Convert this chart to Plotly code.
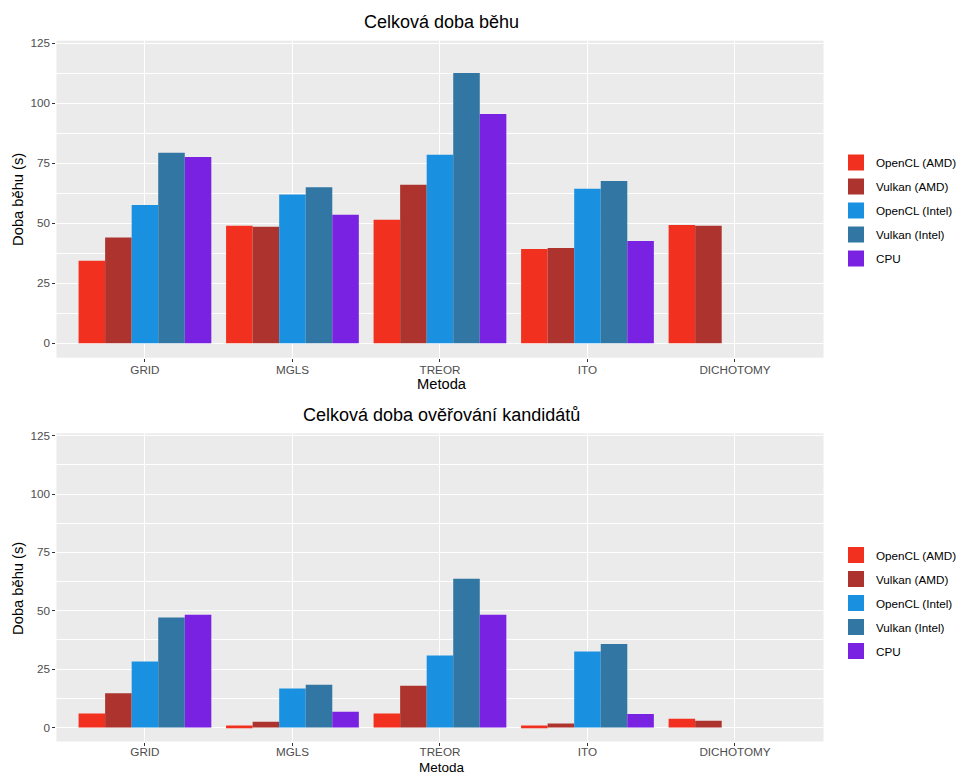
import plotly.graph_objects as go

categories = ["GRID", "MGLS", "TREOR", "ITO", "DICHOTOMY"]
series_names = ["OpenCL (AMD)", "Vulkan (AMD)", "OpenCL (Intel)", "Vulkan (Intel)", "CPU"]
colors = ["#F2301F", "#AD342E", "#1A91E0", "#3276A3", "#7A22E2"]

# Celková doba běhu (s)
total_opencl_amd = [34.4, 48.9, 51.4, 39.3, 49.3]
total_vulkan_amd = [44.0, 48.5, 66.0, 39.7, 48.9]
total_opencl_intel = [57.6, 62.0, 78.5, 64.3, None]
total_vulkan_intel = [79.3, 65.0, 112.6, 67.6, None]
total_cpu = [77.6, 53.5, 95.5, 42.6, None]

# Celková doba ověřování kandidátů (s)
verif_opencl_amd = [6.0, 0.8, 6.0, 0.8, 3.7]
verif_vulkan_amd = [14.7, 2.5, 17.9, 1.7, 2.9]
verif_opencl_intel = [28.3, 16.7, 30.8, 32.5, None]
verif_vulkan_intel = [47.1, 18.3, 63.7, 35.8, None]
verif_cpu = [48.3, 6.7, 48.3, 5.8, None]

y_ticks = [0, 25, 50, 75, 100, 125]

top_series = [total_opencl_amd, total_vulkan_amd, total_opencl_intel, total_vulkan_intel, total_cpu]
bot_series = [verif_opencl_amd, verif_vulkan_amd, verif_opencl_intel, verif_vulkan_intel, verif_cpu]

OFF_X, OFF_Y = 8, 8  # page body margin
W, H = 970 - 16, 784 - 16
FONT = "Liberation Sans"
TICK = 11.7

def fy(px):
    return 1 - (px - OFF_Y) / H

def fx(px):
    return (px - OFF_X) / W

fig = go.Figure()

panels = [
    (top_series, "x", "y", "legend"),
    (bot_series, "x2", "y2", "legend2"),
]
for series, xa, ya, lg in panels:
    for i, (name, vals) in enumerate(zip(series_names, series)):
        fig.add_trace(go.Bar(
            x=categories, y=vals, name=name, xaxis=xa, yaxis=ya,
            marker=dict(color=colors[i], line=dict(width=0)),
            showlegend=False, offsetgroup=str(i),
        ))
    for i, name in enumerate(series_names):
        fig.add_trace(go.Scatter(
            x=[None], y=[None], mode="markers", name=name, xaxis=xa, yaxis=ya,
            marker=dict(symbol="square", size=22, color=colors[i]),
            legend=lg, legendgroup=lg + str(i), showlegend=True,
        ))

xdom = [fx(57), fx(833)]
top_dom = [fy(357.7), fy(40.7)]
bot_dom = [fy(741.5), fy(433.3)]

def xaxis_style(anchor, standoff):
    return dict(
        domain=xdom, anchor=anchor, type="category", range=[-0.6, 4.6],
        categoryorder="array", categoryarray=categories,
        showgrid=True, gridcolor="white", gridwidth=1.3,
        ticks="outside", ticklen=3, tickcolor="#333333", tickwidth=1,
        ticklabelstandoff=standoff,
        tickfont=dict(family=FONT, size=TICK, color="#4D4D4D"),
        showline=False, zeroline=False, automargin=False, fixedrange=True,
    )

def yaxis_style(dom, anchor):
    return dict(
        domain=dom, anchor=anchor, range=[-6, 126],
        tickvals=y_ticks, ticktext=[str(v) for v in y_ticks],
        showgrid=True, gridcolor="white", gridwidth=1.3,
        minor=dict(dtick=12.5, tick0=0, showgrid=True, gridcolor="white", gridwidth=0.6, ticks=""),
        ticks="outside", ticklen=3, tickcolor="#333333", tickwidth=1,
        tickfont=dict(family=FONT, size=TICK, color="#4D4D4D"),
        showline=False, zeroline=False, automargin=False, fixedrange=True,
    )

legend_common = dict(
    xanchor="left", yanchor="top", bgcolor="rgba(0,0,0,0)",
    font=dict(family=FONT, size=11.7, color="black"),
    itemsizing="trace", tracegroupgap=5, traceorder="grouped",
)

def ann(text, x, y, size, angle=0, yanchor="middle"):
    return dict(text=text, x=fx(x), y=fy(y), xref="paper", yref="paper",
                xanchor="center", yanchor=yanchor, textangle=angle, borderpad=0,
                showarrow=False, font=dict(family=FONT, size=size, color="black"))

fig.update_layout(
    width=W, height=H,
    margin=dict(l=0, r=0, t=0, b=0),
    paper_bgcolor="white", plot_bgcolor="#EBEBEB",
    barmode="group", bargap=0.1, bargroupgap=0,
    font=dict(family=FONT, color="black"),
    xaxis=xaxis_style("y", -2),
    yaxis=yaxis_style(top_dom, "x"),
    xaxis2=xaxis_style("y2", -4),
    yaxis2=yaxis_style(bot_dom, "x2"),
    legend=dict(x=fx(846), y=fy(148), **legend_common),
    legend2=dict(x=fx(846), y=fy(148 + 392.6), **legend_common),
    annotations=[
        ann("Celková doba běhu", 447, 22, 18),
        ann("Celková doba ověřování kandidátů", 447, 415, 18),
        ann("Metoda", 447, 384, 14.7),
        ann("Metoda", 447, 776, 13.5, yanchor="bottom"),
        ann("Doba běhu (s)", 18, 199, 14.7, -90),
        ann("Doba běhu (s)", 18, 588, 14.7, -90),
    ],
)

fig.write_html("out.html")
